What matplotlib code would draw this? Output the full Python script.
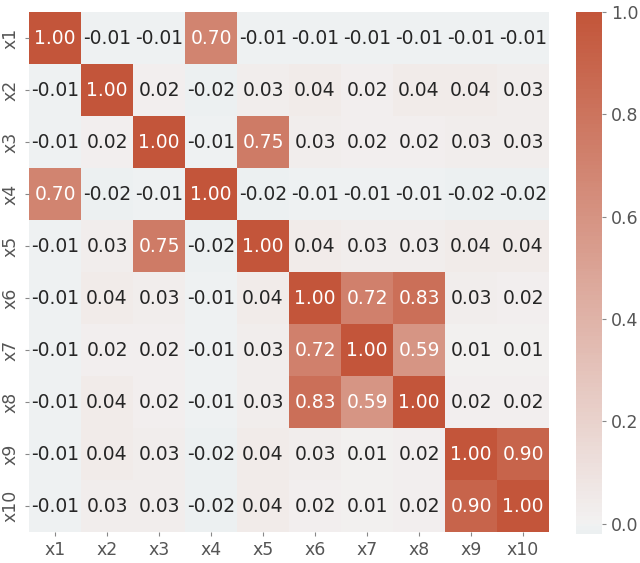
import numpy as np
import matplotlib
matplotlib.use("Agg")
import matplotlib.pyplot as plt
import seaborn as sns

labels = ["x1", "x2", "x3", "x4", "x5", "x6", "x7", "x8", "x9", "x10"]
row_x1 = [1.00, -0.01, -0.01, 0.70, -0.01, -0.01, -0.01, -0.01, -0.01, -0.01]
row_x2 = [-0.01, 1.00, 0.02, -0.02, 0.03, 0.04, 0.02, 0.04, 0.04, 0.03]
row_x3 = [-0.01, 0.02, 1.00, -0.01, 0.75, 0.03, 0.02, 0.02, 0.03, 0.03]
row_x4 = [0.70, -0.02, -0.01, 1.00, -0.02, -0.01, -0.01, -0.01, -0.02, -0.02]
row_x5 = [-0.01, 0.03, 0.75, -0.02, 1.00, 0.04, 0.03, 0.03, 0.04, 0.04]
row_x6 = [-0.01, 0.04, 0.03, -0.01, 0.04, 1.00, 0.72, 0.83, 0.03, 0.02]
row_x7 = [-0.01, 0.02, 0.02, -0.01, 0.03, 0.72, 1.00, 0.59, 0.01, 0.01]
row_x8 = [-0.01, 0.04, 0.02, -0.01, 0.03, 0.83, 0.59, 1.00, 0.02, 0.02]
row_x9 = [-0.01, 0.04, 0.03, -0.02, 0.04, 0.03, 0.01, 0.02, 1.00, 0.90]
row_x10 = [-0.01, 0.03, 0.03, -0.02, 0.04, 0.02, 0.01, 0.02, 0.90, 1.00]

corr = np.array([row_x1, row_x2, row_x3, row_x4, row_x5,
                 row_x6, row_x7, row_x8, row_x9, row_x10])

plt.rcParams['font.family'] = ['DejaVu Sans']
fig = plt.figure(figsize=(6.4, 5.63), dpi=100)
ax = fig.add_axes([29/640, 31/563, 520/640, 520/563])
cax = fig.add_axes([576/640, 29/563, 26/640, 522/563])

cmap = sns.diverging_palette(220, 20, as_cmap=True)
sns.heatmap(corr, ax=ax, cbar_ax=cax, cmap=cmap, center=0, annot=True,
            fmt=".2f", annot_kws={"size": 13.5},
            xticklabels=labels, yticklabels=labels)

grey = "#555555"
ax.tick_params(axis="both", colors="#888888", labelcolor=grey, labelsize=12.5, length=3)
ax.set_yticklabels(labels, rotation=90, va="center")
ax.set_xticklabels(labels, rotation=0)
cax.tick_params(colors="#888888", labelcolor=grey, labelsize=12.5, length=3)
cax.set_yticks([0.0, 0.2, 0.4, 0.6, 0.8, 1.0])
cax.set_yticklabels(["0.0", "0.2", "0.4", "0.6", "0.8", "1.0"])
for s in cax.spines.values():
    s.set_visible(False)

fig.savefig("out.png", dpi=100)
